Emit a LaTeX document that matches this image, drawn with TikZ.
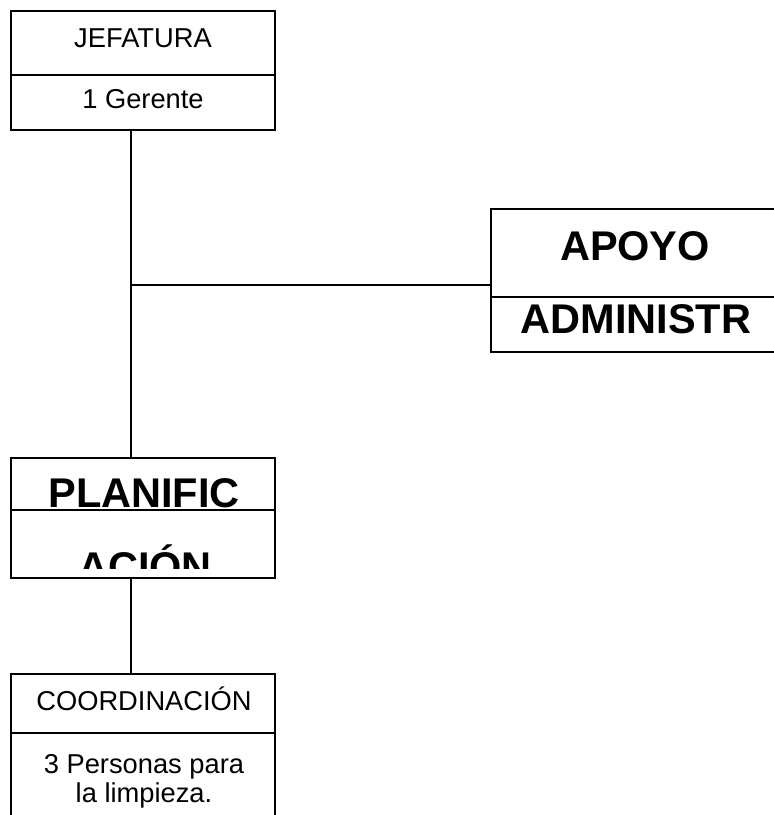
\documentclass[tikz,border=0pt]{standalone}
\usepackage{fontspec}
\setmainfont{Liberation Sans}
\begin{document}
\begin{tikzpicture}[x=1pt,y=-1pt,
  box/.style={draw,line width=1.7pt,inner sep=0pt,outer sep=0pt,rectangle},
  divider/.style={line width=1.5pt},
  conn/.style={line width=1.3pt},
  reg/.style={inner sep=0pt,anchor=base,font=\fontsize{27.3}{30}\selectfont,align=center},
  big/.style={inner sep=0pt,anchor=base,font=\fontsize{41.5}{46}\selectfont\bfseries}]
\useasboundingbox (0,0) rectangle (774,815);
\clip (0,0) rectangle (774,815);
% boxes
\node[box,minimum width=264pt,minimum height=119pt] (jef) at (143,70.5) {};
\node[box,minimum width=288pt,minimum height=143pt] (apoyo) at (635,280.5) {};
\node[box,minimum width=264pt,minimum height=120pt] (plan) at (143,518) {};
\node[box,minimum width=264pt,minimum height=156pt] (coord) at (143,752) {};
% dividers
\draw[divider] (11,75) -- (275,75);
\draw[divider] (491,297) -- (779,297);
\draw[divider] (11,510) -- (275,510);
\draw[divider] (11,733) -- (275,733);
% texts
\node[reg] (t1) at (143,47) {JEFATURA};
\node[reg] (t2) at (143,108) {1 Gerente};
\node[big] (t3) at (635,260) {APOYO};
\node[big] (t4) at (636,333) {ADMINISTR};
\node[big] (t5) at (144,507) {PLANIFIC};
\begin{scope}
\clip (11,510) rectangle (275,568);
\node[big] (t6) at (145,581) {ACIÓN};
\end{scope}
\node[reg] (t7) at (144,710) {COORDINACIÓN};
\node[reg] (t8) at (144,773) {3 Personas para};
\node[reg] (t9) at (144,802) {la limpieza.};
% connectors
\coordinate (trunk) at (131,285);
\draw[conn] (jef.south -| trunk) -- (plan.north -| trunk);
\draw[conn] (trunk) -- (trunk -| apoyo.west);
\draw[conn] (plan.south -| trunk) -- (coord.north -| trunk);
\end{tikzpicture}
\end{document}
